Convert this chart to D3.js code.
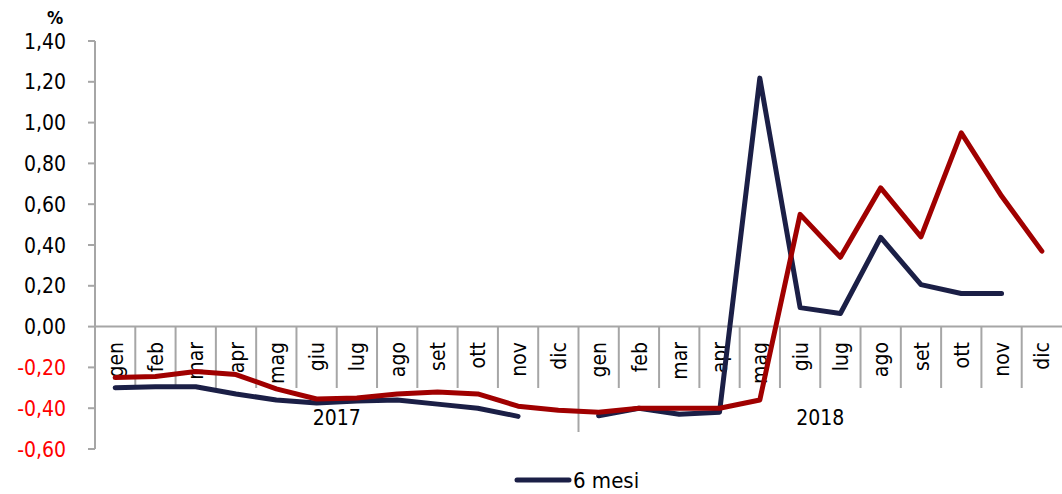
<!DOCTYPE html>
<html><head><meta charset="utf-8">
<script src="https://cdn.jsdelivr.net/npm/d3@7"></script>
<style>
html,body{margin:0;padding:0;background:#fff;}
svg{display:block;font-family:"DejaVu Sans Condensed","DejaVu Sans",sans-serif;}
</style></head>
<body><svg id="c" width="1062" height="494"></svg>
<script>
const months = ["gen","feb","mar","apr","mag","giu","lug","ago","set","ott","nov","dic"];
const years = ["2017","2018"];
const categories = years.flatMap(y => months.map(m => y + "-" + m));
const yTicks = [-0.6,-0.4,-0.2,0,0.2,0.4,0.6,0.8,1.0,1.2,1.4];
const seriesNames = ["6 mesi", "12 mesi"];
const mesi6 = [-0.30,-0.295,-0.295,-0.33,-0.36,-0.375,-0.365,-0.36,-0.38,-0.40,-0.44,null,
               -0.437,-0.40,-0.43,-0.42,1.218,0.093,0.064,0.437,0.206,0.162,0.162,null];
const mesi12 = [-0.25,-0.245,-0.22,-0.235,-0.305,-0.355,-0.35,-0.33,-0.32,-0.33,-0.39,-0.41,
                -0.42,-0.40,-0.40,-0.40,-0.36,0.55,0.34,0.68,0.44,0.95,0.64,0.37];

const svg = d3.select("#c");
const axisColor = "#a6a6a6";
const x = d3.scaleBand().domain(categories).range([95, 1062]).padding(0);
const y = d3.scaleLinear().domain([-0.6, 1.4]).range([449, 41]);

// Y axis
svg.append("line").attr("x1",95).attr("x2",95).attr("y1",y(1.4)).attr("y2",y(-0.6))
  .attr("stroke",axisColor).attr("stroke-width",2);
const yt = svg.append("g");
yTicks.forEach(v => {
  yt.append("line").attr("x1",88).attr("x2",95).attr("y1",y(v)).attr("y2",y(v))
    .attr("stroke",axisColor).attr("stroke-width",2);
  yt.append("text").attr("x",66).attr("y",y(v)).attr("dy","0.36em")
    .attr("text-anchor","end").attr("font-size",21)
    .attr("fill", v < 0 ? "#ff0000" : "#000")
    .text(d3.format(".2f")(v).replace(".", ",").replace("−","-"));
});
svg.append("text").attr("x",55).attr("y",24).attr("text-anchor","middle")
  .attr("font-size",18).attr("font-weight","bold").text("%");

// X axis
svg.append("line").attr("x1",95).attr("x2",1062).attr("y1",y(0)).attr("y2",y(0))
  .attr("stroke",axisColor).attr("stroke-width",2);
categories.forEach((c,i) => {
  const bx = x(c);
  if (i > 0) {
    const yearStart = i % 12 === 0;
    svg.append("line").attr("x1",bx).attr("x2",bx).attr("y1",y(0))
      .attr("y2", yearStart ? 432 : 388).attr("stroke",axisColor).attr("stroke-width",2);
  }
  const cx = bx + x.bandwidth()/2;
  svg.append("text").attr("transform",`translate(${cx},342) rotate(-90)`)
    .attr("dy","0.36em").attr("text-anchor","end").attr("font-size",21)
    .attr("fill","#000").text(c.split("-")[1]);
});
years.forEach((yr,k) => {
  const x0 = x(yr + "-gen"), x1 = x(yr + "-dic") + x.bandwidth();
  svg.append("text").attr("x",(x0+x1)/2).attr("y",425).attr("text-anchor","middle")
    .attr("font-size",21).attr("fill","#000").text(yr);
});

// Lines
const line = d3.line()
  .defined(d => d.v !== null)
  .x(d => x(d.c) + x.bandwidth()/2)
  .y(d => y(d.v));
const colors = {"6 mesi":"#1b1f46","12 mesi":"#a00000"};
[["6 mesi", mesi6], ["12 mesi", mesi12]].forEach(([name, vals]) => {
  svg.append("path").datum(categories.map((c,i) => ({c, v: vals[i]})))
    .attr("d", line).attr("fill","none").attr("stroke",colors[name])
    .attr("stroke-width",5).attr("stroke-linejoin","round").attr("stroke-linecap","round");
});

// Legend
svg.append("line").attr("x1",517).attr("x2",569).attr("y1",480).attr("y2",480)
  .attr("stroke",colors["6 mesi"]).attr("stroke-width",5).attr("stroke-linecap","round");
svg.append("text").attr("x",573).attr("y",480).attr("dy","0.36em").attr("font-size",22)
  .attr("fill","#000").text(seriesNames[0]);
</script></body></html>
